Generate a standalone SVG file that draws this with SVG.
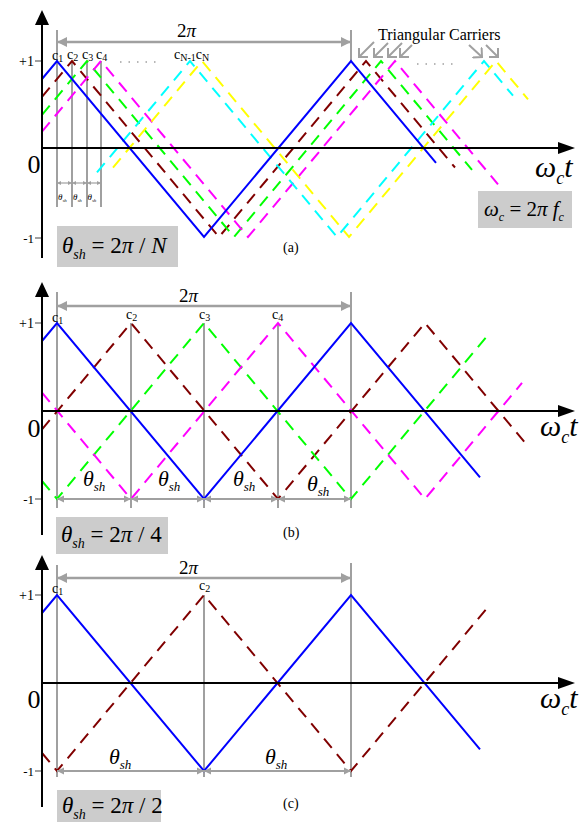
<svg xmlns="http://www.w3.org/2000/svg" width="581" height="822" viewBox="0 0 581 822">
<style>
  text { font-family: "Liberation Serif", "Times New Roman", serif; fill: #000; }
  .it { font-style: italic; }
  .axis { stroke: #000; stroke-width: 2; fill: none; }
  .ah { fill: #000; }
  .gl { stroke: #a0a0a0; stroke-width: 2; fill: none; }
  .dim { stroke: #a0a0a0; stroke-width: 2.5; fill: none; marker-start: url(#ga); marker-end: url(#ga); }
  .sdim { stroke: #a0a0a0; stroke-width: 2; fill: none; marker-start: url(#gs); marker-end: url(#gs); }
  .tdim { stroke: #a0a0a0; stroke-width: 1.2; fill: none; marker-start: url(#gt); marker-end: url(#gt); }
  .car { fill: none; stroke-width: 2; }
  .dash { stroke-dasharray: 12 8; }
  .blue { stroke: #0000ff; }
  .red { stroke: #800000; }
  .green { stroke: #00ff00; }
  .mag { stroke: #ff00ff; }
  .cyan { stroke: #00ffff; }
  .yel { stroke: #ffff00; }
  .box { fill: #cccccc; }
  .dots { stroke: #a0a0a0; stroke-width: 1.5; stroke-dasharray: 1.5 7; }
  .chev { stroke: #a0a0a0; stroke-width: 2; fill: none; marker-end: url(#chev); }
</style>
<defs>
  <marker id="ga" viewBox="0 0 10 10" refX="10" refY="5" markerWidth="11" markerHeight="10" markerUnits="userSpaceOnUse" orient="auto-start-reverse"><path d="M0,0 L10,5 L0,10 z" fill="#a0a0a0"/></marker>
  <marker id="gs" viewBox="0 0 10 10" refX="10" refY="5" markerWidth="7" markerHeight="8" markerUnits="userSpaceOnUse" orient="auto-start-reverse"><path d="M0,0 L10,5 L0,10 z" fill="#a0a0a0"/></marker>
  <marker id="gt" viewBox="0 0 10 10" refX="10" refY="5" markerWidth="4" markerHeight="5" markerUnits="userSpaceOnUse" orient="auto-start-reverse"><path d="M0,0 L10,5 L0,10 z" fill="#a0a0a0"/></marker>
  <marker id="chev" viewBox="0 0 8 14" refX="7" refY="7" markerWidth="8" markerHeight="14" markerUnits="userSpaceOnUse" orient="auto"><path d="M0,0 L7,7 L0,14" fill="none" stroke="#a0a0a0" stroke-width="2"/></marker>
</defs>

<!-- ================= Panel (a) ================= -->
<g id="panel-a">
  <g id="a-grid">
    <line class="gl" x1="57" y1="30" x2="57" y2="207"/>
    <line class="gl" x1="72" y1="61" x2="72" y2="207"/>
    <line class="gl" x1="87" y1="61" x2="87" y2="207"/>
    <line class="gl" x1="101" y1="61" x2="101" y2="207"/>
    <line class="gl" x1="351" y1="30" x2="351" y2="62"/>
    <line class="gl" x1="35" y1="61" x2="42" y2="61"/>
    <line class="gl" x1="35" y1="238" x2="42" y2="238"/>
    <line class="dots" x1="120" y1="62" x2="162" y2="62"/>
    <line class="dots" x1="417" y1="64" x2="459" y2="64"/>
  </g>
  <g id="a-carriers">
    <polyline class="car dash red" points="42,96.9 72,61 219,237 366,61 455,167.5"/>
    <polyline class="car dash green" points="42,114.9 87,61 234,237 381,61 472,169.9"/>
    <polyline class="car dash mag" points="42,131.6 101,61 248,237 395,61 498,184.3"/>
    <polyline class="car dash cyan" points="97,172.4 190,61 337,237 484,61 513,95.7"/>
    <polyline class="car dash yel" points="113,167.6 202,61 349,237 496,61 528,99.3"/>
    <polyline class="car blue" points="42,79 57,61 204,237 351,61 436,162.8"/>
  </g>
  <g id="a-axes">
    <line class="axis" x1="42" y1="258" x2="42" y2="22"/>
    <polygon class="ah" points="42,10 35,25 49,25"/>
    <line class="axis" x1="42" y1="148" x2="560" y2="148"/>
    <polygon class="ah" points="575,148 558,142 558,154"/>
  </g>
  <g id="a-dims">
    <line class="dim" x1="57" y1="42" x2="351" y2="42"/>
    <text x="177" y="37" font-size="19">2<tspan class="it">π</tspan></text>
    <line class="tdim" x1="57" y1="183" x2="72" y2="183"/>
    <line class="tdim" x1="72" y1="183" x2="87" y2="183"/>
    <line class="tdim" x1="87" y1="183" x2="101" y2="183"/>
    <text class="it" x="58" y="200" font-size="9">θ<tspan font-size="5" dy="2">sh</tspan></text>
    <text class="it" x="73" y="200" font-size="9">θ<tspan font-size="5" dy="2">sh</tspan></text>
    <text class="it" x="87.5" y="200" font-size="9">θ<tspan font-size="5" dy="2">sh</tspan></text>
  </g>
  <g id="a-labels">
    <text x="52" y="60" font-size="14">c<tspan font-size="10" dy="2">1</tspan></text>
    <text x="67" y="59" font-size="14">c<tspan font-size="10" dy="2">2</tspan></text>
    <text x="82" y="59" font-size="14">c<tspan font-size="10" dy="2">3</tspan></text>
    <text x="96" y="59" font-size="14">c<tspan font-size="10" dy="2">4</tspan></text>
    <text x="174" y="59" font-size="14">c<tspan font-size="10" dy="2">N-1</tspan><tspan font-size="14" dy="-2">c</tspan><tspan font-size="10" dy="2">N</tspan></text>
    <text x="34" y="66" font-size="14" text-anchor="end">+1</text>
    <text x="34" y="173" font-size="26" text-anchor="middle">0</text>
    <text x="34" y="243" font-size="13" text-anchor="end">-1</text>
    <text x="283" y="252" font-size="14">(a)</text>
    <text x="378" y="40" font-size="16">Triangular Carriers</text>
    <line class="chev" x1="374" y1="42" x2="359" y2="57"/>
    <line class="chev" x1="388" y1="43" x2="374" y2="57"/>
    <line class="chev" x1="402" y1="43" x2="388" y2="57"/>
    <line class="chev" x1="412" y1="45" x2="400" y2="57"/>
    <line class="chev" x1="469" y1="45" x2="482" y2="57"/>
    <line class="chev" x1="486" y1="45" x2="498" y2="57"/>
  </g>
  <g id="a-omega">
    <text class="it" x="535" y="177" font-size="30">ω<tspan font-size="18" dy="7">c</tspan><tspan dy="-7">t</tspan></text>
  </g>
  <g id="a-box-theta">
    <rect class="box" x="57" y="226" width="121" height="41"/>
    <text x="62" y="253" font-size="23"><tspan class="it">θ</tspan><tspan class="it" font-size="14" dy="6">sh</tspan><tspan dy="-6"> = 2</tspan><tspan class="it">π</tspan> / <tspan class="it">N</tspan></text>
  </g>
  <g id="a-box-omega">
    <rect class="box" x="478" y="191" width="94" height="37"/>
    <text x="484" y="216" font-size="21"><tspan class="it">ω</tspan><tspan class="it" font-size="12" dy="5">c</tspan><tspan dy="-5"> = 2</tspan><tspan class="it">π f</tspan><tspan class="it" font-size="12" dy="5">c</tspan></text>
  </g>
</g>

<!-- ================= Panel (b) ================= -->
<g id="panel-b">
  <g id="b-grid">
    <line class="gl" x1="57" y1="292" x2="57" y2="508"/>
    <line class="gl" x1="131" y1="323" x2="131" y2="508"/>
    <line class="gl" x1="204" y1="323" x2="204" y2="508"/>
    <line class="gl" x1="278" y1="323" x2="278" y2="508"/>
    <line class="gl" x1="351" y1="292" x2="351" y2="508"/>
    <line class="gl" x1="35" y1="323" x2="42" y2="323"/>
    <line class="gl" x1="35" y1="499" x2="42" y2="499"/>
  </g>
  <g id="b-carriers">
    <polyline class="car dash red" points="42,429.4 131,323 278,499 425,323 525,442.7"/>
    <polyline class="car dash green" points="42,481 57,499 204,323 351,499 489,333.8"/>
    <polyline class="car dash mag" points="42,392.6 131,499 278,323 425,499 522,382.9"/>
    <polyline class="car blue" points="42,341 57,323 204,499 351,323 480,477.4"/>
  </g>
  <g id="b-axes">
    <line class="axis" x1="42" y1="535" x2="42" y2="294"/>
    <polygon class="ah" points="42,282 35,297 49,297"/>
    <line class="axis" x1="42" y1="411" x2="560" y2="411"/>
    <polygon class="ah" points="575,411 558,405 558,417"/>
  </g>
  <g id="b-dims">
    <line class="dim" x1="57" y1="306" x2="351" y2="306"/>
    <text x="179" y="302" font-size="19">2<tspan class="it">π</tspan></text>
    <line class="sdim" x1="57" y1="499" x2="131" y2="499"/>
    <line class="sdim" x1="131" y1="499" x2="204" y2="499"/>
    <line class="sdim" x1="204" y1="499" x2="278" y2="499"/>
    <line class="sdim" x1="278" y1="499" x2="351" y2="499"/>
    <text class="it" x="83" y="486" font-size="22">θ<tspan font-size="13" dy="5">sh</tspan></text>
    <text class="it" x="158" y="486" font-size="22">θ<tspan font-size="13" dy="5">sh</tspan></text>
    <text class="it" x="233" y="486" font-size="22">θ<tspan font-size="13" dy="5">sh</tspan></text>
    <text class="it" x="307" y="491" font-size="22">θ<tspan font-size="13" dy="5">sh</tspan></text>
  </g>
  <g id="b-labels">
    <text x="52" y="322" font-size="14">c<tspan font-size="10" dy="2">1</tspan></text>
    <text x="126" y="319" font-size="14">c<tspan font-size="10" dy="2">2</tspan></text>
    <text x="199" y="319" font-size="14">c<tspan font-size="10" dy="2">3</tspan></text>
    <text x="272" y="319" font-size="14">c<tspan font-size="10" dy="2">4</tspan></text>
    <text x="34" y="328" font-size="14" text-anchor="end">+1</text>
    <text x="34" y="437" font-size="26" text-anchor="middle">0</text>
    <text x="34" y="504" font-size="13" text-anchor="end">-1</text>
    <text x="283" y="537" font-size="14">(b)</text>
    <text class="it" x="540" y="436" font-size="30">ω<tspan font-size="18" dy="7">c</tspan><tspan dy="-7">t</tspan></text>
  </g>
  <g id="b-box-theta">
    <rect class="box" x="56" y="517" width="112" height="37"/>
    <text x="61" y="542" font-size="23"><tspan class="it">θ</tspan><tspan class="it" font-size="14" dy="6">sh</tspan><tspan dy="-6"> = 2</tspan><tspan class="it">π</tspan> / 4</text>
  </g>
</g>

<!-- ================= Panel (c) ================= -->
<g id="panel-c">
  <g id="c-grid">
    <line class="gl" x1="57" y1="565" x2="57" y2="777"/>
    <line class="gl" x1="204" y1="595" x2="204" y2="777"/>
    <line class="gl" x1="351" y1="563" x2="351" y2="777"/>
    <line class="gl" x1="35" y1="595" x2="42" y2="595"/>
    <line class="gl" x1="35" y1="771" x2="42" y2="771"/>
  </g>
  <g id="c-carriers">
    <polyline class="car dash red" points="42,753 57,771 204,595 351,771 489,605.8"/>
    <polyline class="car blue" points="42,613 57,595 204,771 351,595 480,749.4"/>
  </g>
  <g id="c-axes">
    <line class="axis" x1="42" y1="807" x2="42" y2="567"/>
    <polygon class="ah" points="42,555 35,570 49,570"/>
    <line class="axis" x1="42" y1="683" x2="560" y2="683"/>
    <polygon class="ah" points="575,683 558,677 558,689"/>
  </g>
  <g id="c-dims">
    <line class="dim" x1="57" y1="578" x2="351" y2="578"/>
    <text x="179" y="574" font-size="19">2<tspan class="it">π</tspan></text>
    <line class="sdim" x1="57" y1="771" x2="204" y2="771"/>
    <line class="sdim" x1="204" y1="771" x2="351" y2="771"/>
    <text class="it" x="109" y="764" font-size="22">θ<tspan font-size="13" dy="5">sh</tspan></text>
    <text class="it" x="265" y="764" font-size="22">θ<tspan font-size="13" dy="5">sh</tspan></text>
  </g>
  <g id="c-labels">
    <text x="52" y="593" font-size="14">c<tspan font-size="10" dy="2">1</tspan></text>
    <text x="199" y="590" font-size="14">c<tspan font-size="10" dy="2">2</tspan></text>
    <text x="34" y="600" font-size="14" text-anchor="end">+1</text>
    <text x="34" y="708" font-size="26" text-anchor="middle">0</text>
    <text x="34" y="776" font-size="13" text-anchor="end">-1</text>
    <text x="283" y="808" font-size="14">(c)</text>
    <text class="it" x="540" y="708" font-size="30">ω<tspan font-size="18" dy="7">c</tspan><tspan dy="-7">t</tspan></text>
  </g>
  <g id="c-box-theta">
    <rect class="box" x="57" y="790" width="104" height="32"/>
    <text x="62" y="813" font-size="23"><tspan class="it">θ</tspan><tspan class="it" font-size="14" dy="6">sh</tspan><tspan dy="-6"> = 2</tspan><tspan class="it">π</tspan> / 2</text>
  </g>
</g>
</svg>
